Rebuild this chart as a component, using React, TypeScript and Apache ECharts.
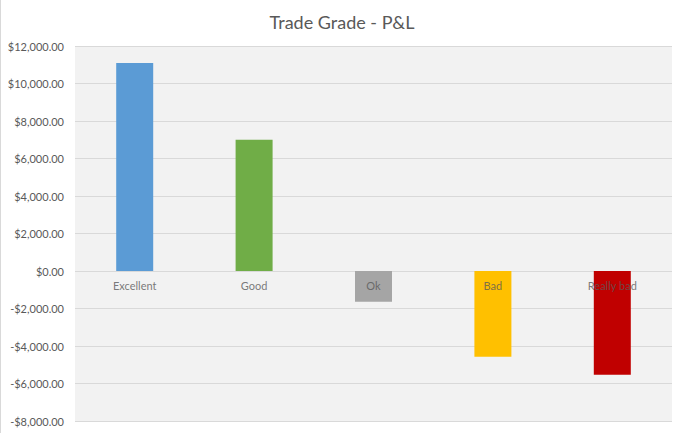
import React, { useEffect, useRef } from "react";
import * as echarts from "echarts";

const categories = ["Excellent", "Good", "Ok", "Bad", "Really bad"];
const pnlValues = [11100, 7000, -1640, -4570, -5530];
const barColors = ["#5b9bd5", "#70ad47", "#a5a5a5", "#ffc000", "#c00000"];
const yMin = -8000;
const yMax = 12000;
const yStep = 2000;

const fmt = (v: number) => {
  const s = Math.abs(v).toLocaleString("en-US", { minimumFractionDigits: 2, maximumFractionDigits: 2 });
  return (v < 0 ? "-$" : "$") + s;
};

export default function App() {
  const ref = useRef<HTMLDivElement>(null);
  useEffect(() => {
    document.body.style.margin = "0";
    const chart = echarts.init(ref.current!, null, { renderer: "svg" });
    const font = "Lato";
    chart.setOption({
      animation: false,
      backgroundColor: "#ffffff",
      title: {
        text: "Trade Grade - P&L",
        left: "center",
        top: 8,
        textStyle: { fontFamily: font, fontSize: 18, fontWeight: "normal", color: "#595959" },
      },
      graphic: [
        { type: "line", shape: { x1: 0.5, y1: 0, x2: 0.5, y2: 433 }, style: { stroke: "#d9d9d9", lineWidth: 1 } },
      ],
      grid: {
        left: 75,
        right: 12,
        top: 46,
        bottom: 12,
        containLabel: false,
        outerBoundsMode: "none",
        show: true,
        backgroundColor: "#f2f2f2",
        borderWidth: 0,
      },
      xAxis: {
        type: "category",
        data: categories,
        axisLine: { show: false },
        axisTick: { show: false },
        axisLabel: { show: false },
        splitLine: { show: false },
      },
      yAxis: {
        type: "value",
        min: yMin,
        max: yMax,
        interval: yStep,
        axisLine: { show: false },
        axisTick: { show: false },
        axisLabel: { fontFamily: font, fontSize: 11, color: "#595959", margin: 11, formatter: fmt },
        splitLine: { lineStyle: { color: "#d9d9d9", width: 1 } },
      },
      series: [
        {
          type: "bar",
          barWidth: 37,
          data: pnlValues.map((v, i) => ({ value: v, itemStyle: { color: barColors[i] } })),
        },
        {
          type: "scatter",
          z: 10,
          symbolSize: 1,
          itemStyle: { color: "rgba(0,0,0,0)" },
          silent: true,
          data: categories.map((c) => [c, 0]),
          label: {
            show: true,
            position: "bottom",
            distance: 8,
            formatter: (p: any) => p.data[0],
            fontFamily: font,
            fontSize: 11,
            color: "#595959",
          },
        },
      ],
    });
    return () => chart.dispose();
  }, []);
  return <div ref={ref} style={{ width: 684, height: 433 }} />;
}
